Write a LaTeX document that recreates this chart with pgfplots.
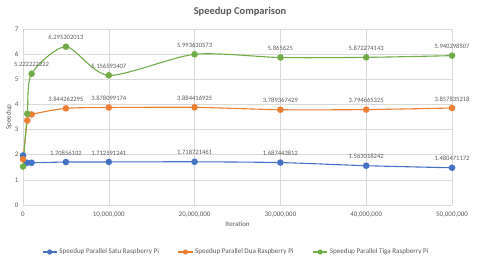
\documentclass[border=0pt]{standalone}
\usepackage{fontspec}
\setmainfont{Carlito}
\usepackage{pgfplots}
\pgfplotsset{compat=1.18}
\definecolor{cblue}{HTML}{4472C4}
\definecolor{corange}{HTML}{ED7D31}
\definecolor{cgreen}{HTML}{70AD47}
\definecolor{ctext}{HTML}{595959}
\definecolor{cgrid}{HTML}{D9D9D9}
\begin{document}
\begin{tikzpicture}[x=1bp,y=1bp]
\path[use as bounding box] (0,0) rectangle (480,261);
\node[font=\fontsize{10.5}{12}\selectfont\bfseries, text=ctext] at (240,249) {Speedup Comparison};
\begin{axis}[
  at={(23bp,56bp)}, anchor=south west,
  scale only axis, width=429bp, height=176bp,
  xmin=0, xmax=50000000, ymin=0, ymax=7,
  xtick={0,10000000,20000000,30000000,40000000,50000000},
  xticklabels={0,{10,000,000},{20,000,000},{30,000,000},{40,000,000},{50,000,000}},
  ytick={0,1,...,7},
  /pgf/number format/assume math mode=true,
  scaled x ticks=false,
  grid=major, major grid style={cgrid, line width=0.6bp},
  axis line style={draw=none},
  tick style={draw=none},
  tick label style={font=\fontsize{7}{8}\selectfont, text=ctext},
  xticklabel style={yshift=-3bp},
  yticklabel style={xshift=-1bp},
  xlabel={Iteration}, ylabel={Speedup},
  label style={font=\fontsize{7}{8}\selectfont, text=ctext},
  xlabel style={yshift=2bp},
  ylabel style={yshift=-4bp},
  clip=false,
  legend columns=3,
  legend style={at={(0.497,-0.267)}, anchor=center, draw=none, fill=none,
    font=\fontsize{7.1}{8}\selectfont, text=ctext,
    /tikz/every even column/.append style={column sep=17bp}},
  legend image code/.code={
    \draw[#1, mark=none] (0cm,0cm) -- (0.5cm,0cm);
    \draw[#1, only marks, mark size=2bp] plot coordinates {(0.25cm,0cm)};
  },
  every axis plot/.append style={line width=1.1bp, mark=*, mark size=2.7bp},
  nodes near coords style={font=\fontsize{6.6}{8}\selectfont, text=ctext, anchor=south, yshift=3bp},
]
\addplot[cblue, mark options={fill=cblue}, smooth, tension=0.4] coordinates {
(10000,1.97) (500000,1.68) (1000000,1.68) (5000000,1.70856102) (10000000,1.712591241)
(20000000,1.718721461) (30000000,1.687443812) (40000000,1.563018242) (50000000,1.480471172)};
\addlegendentry{Speedup Parallel Satu Raspberry Pi}
\addplot[corange, mark options={fill=corange}, smooth, tension=0.4] coordinates {
(10000,1.82) (500000,3.36) (1000000,3.6) (5000000,3.844262295) (10000000,3.878099174)
(20000000,3.884416925) (30000000,3.789367429) (40000000,3.794665325) (50000000,3.857835218)};
\addlegendentry{Speedup Parallel Dua Raspberry Pi}
\addplot[cgreen, mark options={fill=cgreen}, smooth, tension=0.45] coordinates {
(10000,1.53) (500000,3.63) (1000000,5.222222222) (5000000,6.295302013) (10000000,5.156593407)
(20000000,5.993630573) (30000000,5.865625) (40000000,5.872274143) (50000000,5.940298507)};
\addlegendentry{Speedup Parallel Tiga Raspberry Pi}

\addplot[draw=none, mark=none, forget plot, point meta=explicit symbolic, nodes near coords] coordinates {
(5000000,1.70856102) [1.70856102] (10000000,1.712591241) [1.712591241]
(20000000,1.718721461) [1.718721461] (30000000,1.687443812) [1.687443812]
(40000000,1.563018242) [1.563018242] (50000000,1.480471172) [1.480471172]};
\addplot[draw=none, mark=none, forget plot, point meta=explicit symbolic, nodes near coords] coordinates {
(5000000,3.844262295) [3.844262295] (10000000,3.878099174) [3.878099174]
(20000000,3.884416925) [3.884416925] (30000000,3.789367429) [3.789367429]
(40000000,3.794665325) [3.794665325] (50000000,3.857835218) [3.857835218]};
\addplot[draw=none, mark=none, forget plot, point meta=explicit symbolic, nodes near coords] coordinates {
(1000000,5.222222222) [5.222222222] (5000000,6.295302013) [6.295302013] (10000000,5.156593407) [5.156593407]
(20000000,5.993630573) [5.993630573] (30000000,5.865625) [5.865625]
(40000000,5.872274143) [5.872274143] (50000000,5.940298507) [5.940298507]};
\end{axis}
\end{tikzpicture}
\end{document}
